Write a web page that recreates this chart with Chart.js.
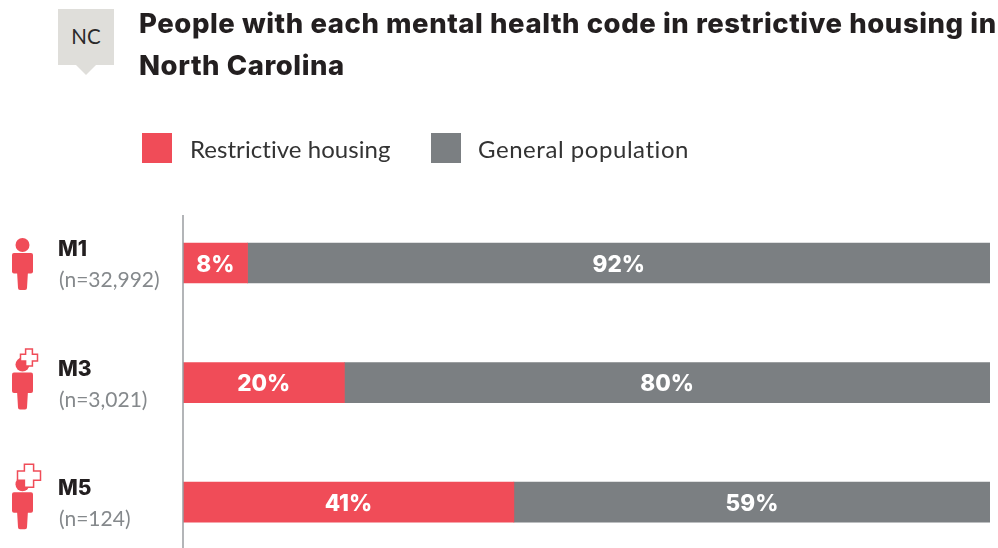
<!DOCTYPE html>
<html>
<head>
<meta charset="utf-8">
<title>Restrictive housing in North Carolina</title>
<script src="https://cdn.jsdelivr.net/npm/chart.js@4/dist/chart.umd.min.js"></script>
<style>
  html, body { margin: 0; padding: 0; background: #fff; overflow: hidden; }
  #wrap { position: relative; width: 998px; height: 548px; overflow: hidden; font-family: Lato, sans-serif; }
  #grafico { position: absolute; left: 0; top: 0; }
  .tag { position: absolute; left: 58px; top: 9px; width: 56px; height: 56px; background: #dfdeda;
         color: #2a2a2a; font-size: 20.5px; line-height: 55px; text-align: center; }
  .tag:after { content: ""; position: absolute; left: 18px; top: 56px; border-left: 10px solid transparent;
         border-right: 10px solid transparent; border-top: 10px solid #dfdeda; }
  h1 { position: absolute; left: 139px; top: 2px; margin: 0; width: 880px; font-family: Inter, sans-serif; font-size: 27.5px; line-height: 42px;
       font-weight: 800; color: #231f20; letter-spacing: 0.56px; white-space: nowrap; }
  .box { position: absolute; top: 133px; width: 30px; height: 30px; }
  .leg { position: absolute; top: 134px; font-size: 24px; line-height: 30px; color: #333; white-space: nowrap; }
</style>
</head>
<body>
<div id="wrap">
  <canvas id="grafico" width="998" height="562"></canvas>
  <div class="tag">NC</div>
  <h1>People with each mental health code in restrictive housing in<br>North Carolina</h1>
  <div class="box" id="boxA" style="left:142px"></div>
  <div class="leg" id="legA" style="left:190px;letter-spacing:0.05px"></div>
  <div class="box" id="boxB" style="left:431px"></div>
  <div class="leg" id="legB" style="left:478px;letter-spacing:0.55px"></div>
</div>
<script>
const categorias = ['M1', 'M3', 'M5'];
const totais = ['(n=32,992)', '(n=3,021)', '(n=124)'];
const restritiva = [8, 20, 41];
const geral = [92, 80, 59];
const nomes = ['Restrictive housing', 'General population'];

const VERMELHO = '#f04c58', CINZA = '#7b7f82';
// half-size of the plus sign above each figure (0 = no plus) and its lift over the row centre
const cruz = [0, 8.5, 11.5];
const cruzAlto = [0, 25, 26.5];

document.getElementById('boxA').style.background = VERMELHO;
document.getElementById('boxB').style.background = CINZA;
document.getElementById('legA').innerText = nomes[0];
document.getElementById('legB').innerText = nomes[1];

function desenhaCruz(ctx, cx, cy, r) {
    const a = r * 0.4;
    ctx.beginPath();
    ctx.moveTo(cx - a, cy - r); ctx.lineTo(cx + a, cy - r); ctx.lineTo(cx + a, cy - a);
    ctx.lineTo(cx + r, cy - a); ctx.lineTo(cx + r, cy + a); ctx.lineTo(cx + a, cy + a);
    ctx.lineTo(cx + a, cy + r); ctx.lineTo(cx - a, cy + r); ctx.lineTo(cx - a, cy + a);
    ctx.lineTo(cx - r, cy + a); ctx.lineTo(cx - r, cy - a); ctx.lineTo(cx - a, cy - a);
    ctx.closePath();
    ctx.fillStyle = '#fff'; ctx.fill();
    ctx.strokeStyle = VERMELHO; ctx.lineWidth = 1.5; ctx.stroke();
}

function desenhaPessoa(ctx, y, i) {
    ctx.fillStyle = VERMELHO;
    ctx.beginPath();
    ctx.arc(22.5, y - 18, 7, 0, Math.PI * 2);
    ctx.fill();
    ctx.beginPath();
    ctx.roundRect(12, y - 10, 21, 20.5, 2);
    ctx.fill();
    ctx.beginPath();
    ctx.moveTo(17, y + 8); ctx.lineTo(28, y + 8); ctx.lineTo(27, y + 25);
    ctx.quadraticCurveTo(27, y + 27, 25, y + 27);
    ctx.lineTo(20, y + 27);
    ctx.quadraticCurveTo(18, y + 27, 18, y + 25);
    ctx.closePath();
    ctx.fill();
    if (cruz[i]) desenhaCruz(ctx, 29, y - cruzAlto[i], cruz[i]);
}

// axis line, figures, category names and the values inside the bars
const extras = {
    id: 'extras',
    afterDatasetsDraw(chart) {
        const ctx = chart.ctx, esc = chart.scales.y;
        ctx.save();
        ctx.strokeStyle = '#9a9da0';
        ctx.lineWidth = 1.5;
        ctx.beginPath();
        ctx.moveTo(chart.chartArea.left, 215);
        ctx.lineTo(chart.chartArea.left, 548);
        ctx.stroke();

        categorias.forEach((c, i) => {
            const y = esc.getPixelForValue(i);
            desenhaPessoa(ctx, y, i);
            ctx.textAlign = 'left';
            ctx.textBaseline = 'alphabetic';
            ctx.fillStyle = '#231f20';
            ctx.font = '800 21px Inter';
            ctx.fillText(c, 58, y - 7);
            ctx.fillStyle = '#85898c';
            ctx.font = '21px Lato';
            ctx.fillText(totais[i], 59, y + 24);
        });

        ctx.fillStyle = '#fff';
        ctx.font = '800 22.5px Inter';
        ctx.textAlign = 'center';
        ctx.textBaseline = 'middle';
        chart.data.datasets.forEach((ds, d) => {
            chart.getDatasetMeta(d).data.forEach((bar, i) => {
                const meio = (bar.base + bar.x) / 2;
                ctx.fillText(ds.data[i] + '%', meio, bar.y + 2);
            });
        });
        ctx.restore();
    }
};

new Chart(document.getElementById('grafico'), {
    type: 'bar',
    plugins: [extras],
    data: {
        labels: categorias,
        datasets: [
            { label: nomes[0], data: restritiva, backgroundColor: VERMELHO, barThickness: 40 },
            { label: nomes[1], data: geral, backgroundColor: CINZA, barThickness: 40 }
        ]
    },
    options: {
        indexAxis: 'y',
        responsive: false,
        animation: false,
        layout: { padding: { left: 183, right: 8, top: 203.2, bottom: 0 } },
        plugins: { legend: { display: false }, tooltip: { enabled: false } },
        scales: {
            x: { stacked: true, min: 0, max: 100, display: false },
            y: { stacked: true, display: false }
        }
    }
});
</script>
</body>
</html>
